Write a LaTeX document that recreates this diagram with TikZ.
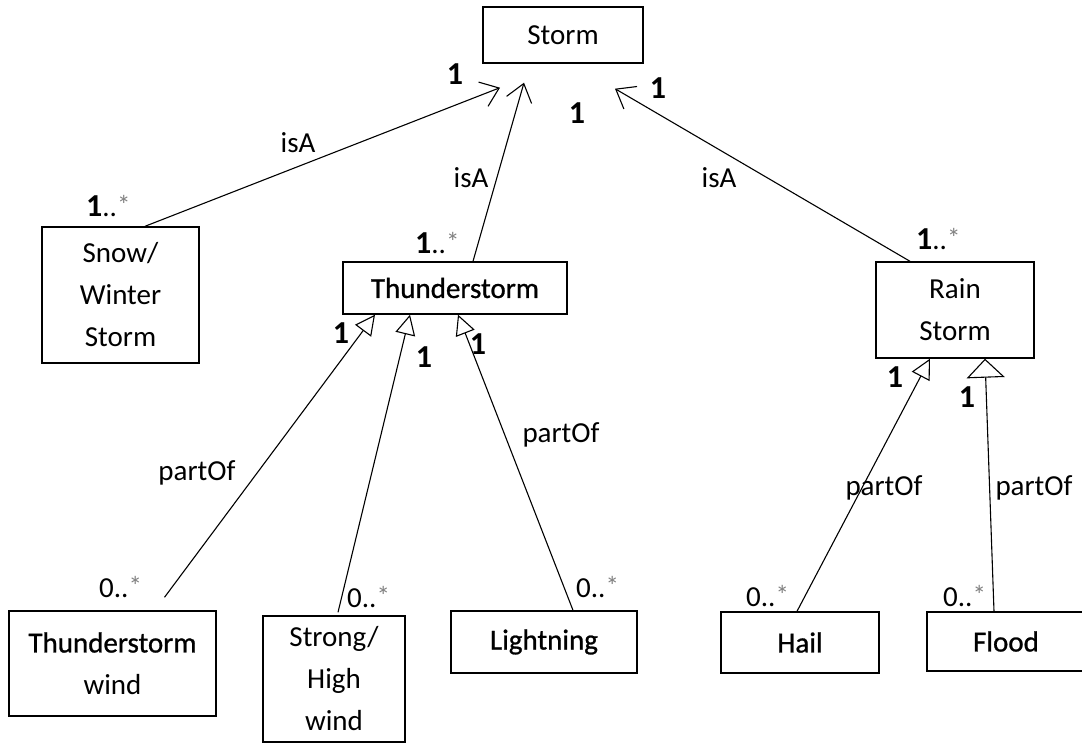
\documentclass[tikz,border=0pt]{standalone}
\usepackage{fontspec}
\setmainfont{Carlito}
\newfontface\heavier{Carlito}[FakeBold=0.9]
\usetikzlibrary{arrows.meta,calc}
% multiplicity "n..*" with a small grey star
\newcommand\manymult[1]{#1..\raisebox{2pt}{\textcolor{gray}{\fontsize{27}{27}\selectfont *}}}
\begin{document}
\begin{tikzpicture}[x=1pt,y=-1pt,
  cls/.style={draw,line width=1.4pt,inner sep=0pt,align=center,
    font=\fontsize{29}{42}\selectfont},
  lbl/.style={inner sep=0pt,font=\fontsize{29}{35}\selectfont},
  mult/.style={inner sep=0pt,anchor=base west,font=\fontsize{29}{35}\selectfont},
  one/.style={inner sep=0pt,font=\bfseries\fontsize{32}{35}\selectfont},
  isa/.style={line width=1.1pt,-{Straight Barb[length=17pt,width=26pt]}},
  partof/.style={line width=1.1pt,-{Triangle[open,length=20pt,width=20pt]}},
]
\clip (0,0) rectangle (1082,743);

% classes
\node[cls,minimum width=160pt,minimum height=56pt] (storm) at (563,35) {Storm};
\node[cls,minimum width=157pt,minimum height=136pt] (snow) at (120.5,295) {Snow/\\Winter\\Storm};
\node[cls,minimum width=224pt,minimum height=52pt] (thunder) at (455,288) {{\heavier Thunderstorm}};
\node[cls,minimum width=158pt,minimum height=96pt] (rain) at (955,310) {Rain\\Storm};
\node[cls,minimum width=207pt,minimum height=105pt] (twind) at (112.5,663.5) {{\heavier Thunderstorm}\\wind};
\node[cls,minimum width=142pt,minimum height=126pt] (shw) at (334,679) {Strong/\\High\\wind};
\node[cls,minimum width=186pt,minimum height=62pt] (light) at (544,642) {{\heavier Lightning}};
\node[cls,minimum width=158pt,minimum height=61pt] (hail) at (800,642.5) {{\heavier Hail}};
\node[cls,minimum width=158pt,minimum height=59pt] (flood) at (1006,641.5) {{\heavier Flood}};

% isA generalisations towards Storm
\draw[isa] ($(snow.north)+(24.5,0)$) -- ($(storm.south)+(-63,24)$);
\draw[isa] ($(thunder.north)+(18,0)$) -- ($(storm.south)+(-39,19)$);
\draw[isa] ($(rain.north)+(-45,0)$) -- ($(storm.south)+(52,25)$);

% partOf compositions
\draw[partof] ($(twind.north)+(52,-13)$) -- ($(thunder.south)+(-80,0)$);
\draw[partof] ($(shw.north)+(4,-3)$) -- ($(thunder.south)+(-45,0)$);
\draw[partof] ($(light.north)+(29,0)$) -- ($(thunder.south)+(3,0)$);
\draw[partof] ($(hail.north)+(-3,0)$) -- ($(rain.south)+(-25,0)$);
\draw[partof,-{Triangle[open,length=19pt,width=38pt]}] ($(flood.north)+(-12,0)$) -- ($(rain.south)+(30,0)$);

% association labels
\node[lbl] (isa1) at (298,143) {isA};
\node[lbl] (isa2) at (471,178) {isA};
\node[lbl] (isa3) at (719,178) {isA};
\node[lbl] (po1) at (197,473) {partOf};
\node[lbl] (po2) at (561,435) {partOf};
\node[lbl] (po3) at (884,488) {partOf};
\node[lbl] (po4) at (1034,488) {partOf};

% multiplicities at Storm
\node[one] (m1) at (455,74) {1};
\node[one] (m2) at (658,88) {1};
\node[one] (m3) at (577,113) {1};
\node[mult] (m4) at (86,217) {\manymult{\textbf{\fontsize{32}{35}\selectfont 1}}};
\node[mult] (m5) at (415,254) {\manymult{\textbf{\fontsize{32}{35}\selectfont 1}}};
\node[mult] (m6) at (916,250) {\manymult{\textbf{\fontsize{32}{35}\selectfont 1}}};

% multiplicities at Thunderstorm and Rain Storm
\node[one] (m7) at (341,333) {1};
\node[one] (m8) at (424,357) {1};
\node[one] (m9) at (478,344) {1};
\node[one] (m10) at (895,377) {1};
\node[one] (m11) at (967,397) {1};

% multiplicities at the parts
\node[mult] (m12) at (99,597) {\manymult{0}};
\node[mult] (m13) at (347,607) {\manymult{0}};
\node[mult] (m14) at (576,597) {\manymult{0}};
\node[mult] (m15) at (746,606) {\manymult{0}};
\node[mult] (m16) at (943,606) {\manymult{0}};
\end{tikzpicture}
\end{document}
